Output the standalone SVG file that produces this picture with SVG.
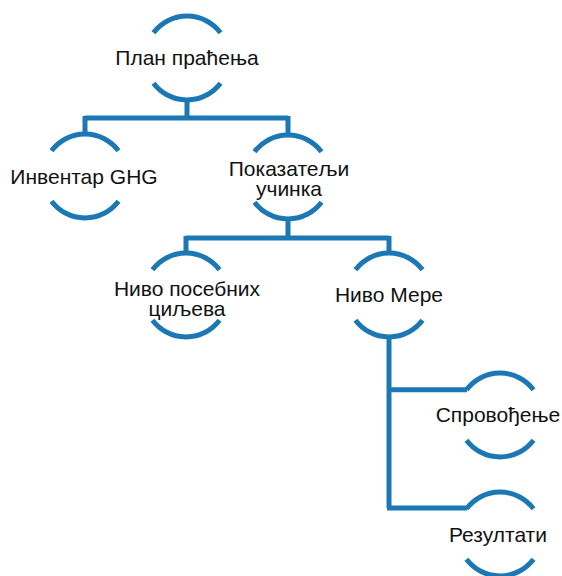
<svg xmlns="http://www.w3.org/2000/svg" width="562" height="576" viewBox="0 0 562 576">
<style>
.arc{fill:none;stroke:#1b78b4;stroke-width:5}
.con{fill:none;stroke:#1b78b4;stroke-width:5;stroke-linejoin:miter}
.t{font-family:"Liberation Sans",Arial,sans-serif;font-size:21px;fill:#111;text-anchor:middle}
</style>
<defs>
<g id="ring">
<path class="arc" d="M-33.5,-25.3 A42,42 0 0 1 33.5,-25.3"/>
<path class="arc" d="M-33.5,25.3 A42,42 0 0 0 33.5,25.3"/>
</g>
</defs>
<rect width="562" height="576" fill="#fff"/>
<g id="connectors">
<path class="con" d="M187,100 V118 M85,118 H288 M85,116 V134 M288,116 V135"/>
<path class="con" d="M288,219 V238 M186,238 H389 M186,236 V253 M389,236 V253"/>
<path class="con" d="M389,337 V508 M387,389.7 H467 M387,508 H467"/>
</g>
<g id="n1"><use href="#ring" x="187" y="58"/><text class="t" x="187" y="65">План праћења</text></g>
<g id="n2"><use href="#ring" x="85" y="176"/><text class="t" x="84" y="184">Инвентар GHG</text></g>
<g id="n3"><use href="#ring" x="288" y="177"/><text class="t" x="289" y="175.5">Показатељи</text><text class="t" x="289" y="196">учинка</text></g>
<g id="n4"><use href="#ring" x="186" y="295"/><text class="t" x="187" y="295.5">Ниво посебних</text><text class="t" x="187" y="316">циљева</text></g>
<g id="n5"><use href="#ring" x="389" y="295"/><text class="t" x="389" y="302">Ниво Мере</text></g>
<g id="n6"><use href="#ring" x="500" y="415"/><text class="t" x="498" y="422">Спровођење</text></g>
<g id="n7"><use href="#ring" x="500" y="534"/><text class="t" x="498" y="542">Резултати</text></g>
</svg>
